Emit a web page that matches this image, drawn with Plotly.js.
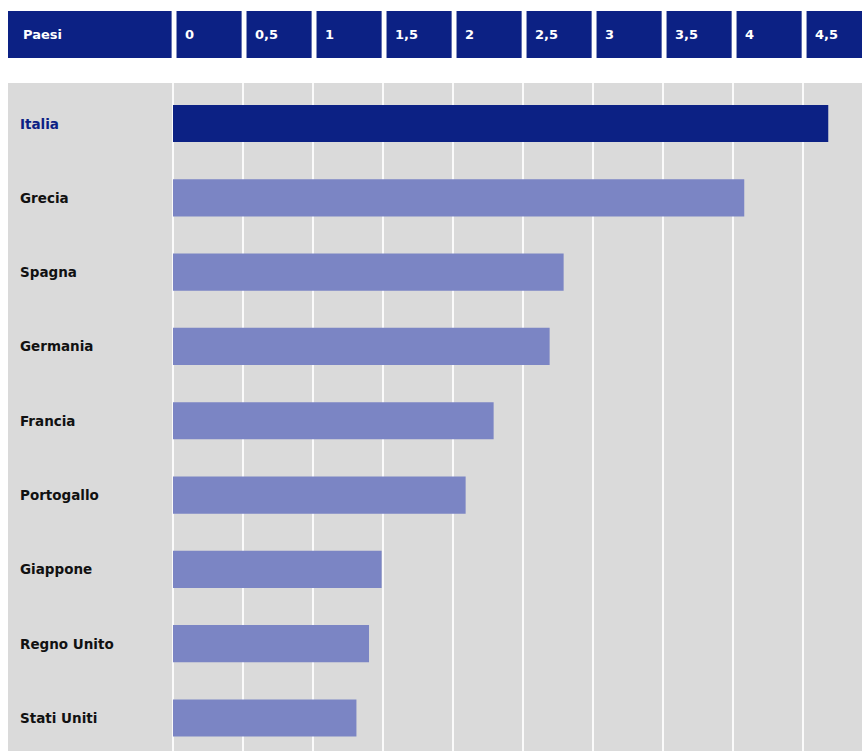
<!DOCTYPE html>
<html>
<head>
<meta charset="utf-8">
<script src="https://cdn.plot.ly/plotly-3.0.1.min.js"></script>
<style>html,body{margin:0;padding:0;background:#fff;}#chart{width:862px;height:751px;}</style>
</head>
<body>
<div id="chart"></div>
<script>
var countries = ["Italia","Grecia","Spagna","Germania","Francia","Portogallo","Giappone","Regno Unito","Stati Uniti"];
var values = [4.68, 4.08, 2.79, 2.69, 2.29, 2.09, 1.49, 1.40, 1.31];
var tickValues = [0, 0.5, 1, 1.5, 2, 2.5, 3, 3.5, 4, 4.5];
var tickLabels = ["0", "0,5", "1", "1,5", "2", "2,5", "3", "3,5", "4", "4,5"];
var headerTitle = "Paesi";
var highlight = "Italia";

var NAVY = "#0c2184";
var LIGHT = "#7b85c4";
var XMIN = -1.1786, XMAX = 4.921;

var colors = countries.map(function(c){ return c === highlight ? NAVY : LIGHT; });

var trace = {
  type: "bar",
  orientation: "h",
  y: countries,
  x: values,
  width: 0.5,
  marker: {color: colors, line: {width: 0}},
  hoverinfo: "x+y"
};

var hdrTop = 1.1078, hdrBot = 1.0374, hdrMid = (hdrTop + hdrBot) / 2;
var shapes = [];
var annotations = [];

shapes.push({type: "rect", xref: "x", yref: "paper", x0: XMIN, x1: -0.01, y0: hdrBot, y1: hdrTop,
  fillcolor: NAVY, line: {width: 0}, layer: "above"});
annotations.push({xref: "x", yref: "paper", x: XMIN + 0.09, y: hdrMid, text: "<b>" + headerTitle + "</b>",
  showarrow: false, xanchor: "left", yanchor: "middle", font: {family: "DejaVu Sans", size: 13, color: "#ffffff"}});

tickValues.forEach(function(v, i){
  var x1 = (i === tickValues.length - 1) ? XMAX : v + 0.49;
  shapes.push({type: "rect", xref: "x", yref: "paper", x0: v + 0.025, x1: x1, y0: hdrBot, y1: hdrTop,
    fillcolor: NAVY, line: {width: 0}, layer: "above"});
  annotations.push({xref: "x", yref: "paper", x: v + 0.07, y: hdrMid, text: "<b>" + tickLabels[i] + "</b>",
    showarrow: false, xanchor: "left", yanchor: "middle", font: {family: "DejaVu Sans", size: 13, color: "#ffffff"}});
});

countries.forEach(function(c){
  annotations.push({xref: "x", yref: "y", x: -1.107, y: c, text: "<b>" + c + "</b>",
    showarrow: false, xanchor: "left", yanchor: "middle",
    font: {family: "DejaVu Sans", size: 13.5, color: c === highlight ? NAVY : "#111111"}});
});

var layout = {
  width: 862, height: 751,
  margin: {l: 8, r: 0, t: 83, b: 0, pad: 0},
  paper_bgcolor: "#ffffff",
  plot_bgcolor: "#dadada",
  showlegend: false,
  bargap: 0.5,
  xaxis: {
    range: [XMIN, XMAX],
    tickvals: tickValues,
    showticklabels: false,
    showgrid: true, gridcolor: "rgba(255,255,255,0.85)", gridwidth: 2.5,
    zeroline: false, showline: false, ticks: "", fixedrange: true
  },
  yaxis: {
    type: "category",
    categoryorder: "array", categoryarray: countries,
    range: [8.444, -0.545],
    showticklabels: false, showgrid: false, zeroline: false, showline: false, ticks: "", fixedrange: true
  },
  shapes: shapes,
  annotations: annotations
};

Plotly.newPlot("chart", [trace], layout, {displayModeBar: false, staticPlot: true});
</script>
</body>
</html>
